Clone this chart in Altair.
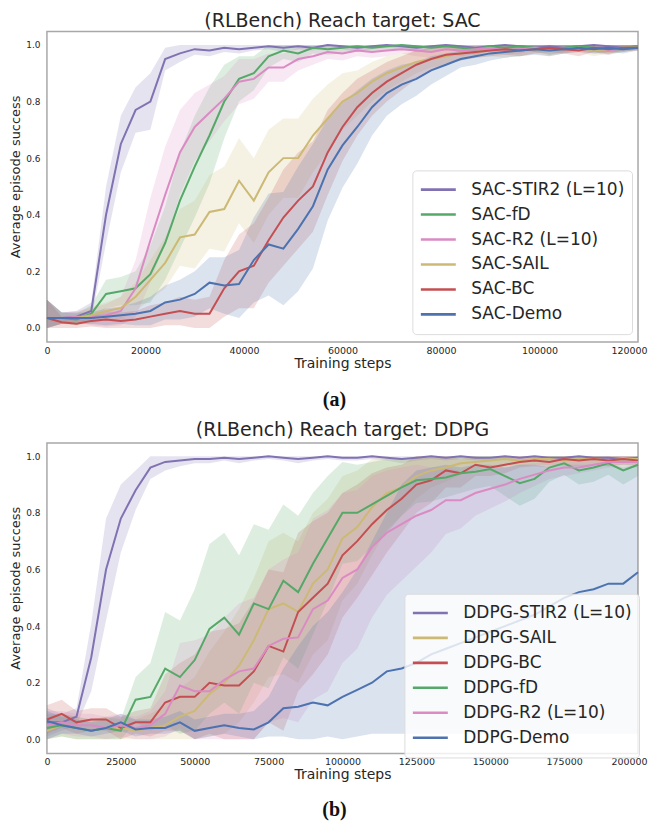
import altair as alt
import pandas as pd

# ---------------- data ----------------
SAC_STEPS = list(range(0, 120001, 3000))
DDPG_STEPS = list(range(0, 200001, 5000))
SAC_X_TICKS = [0, 20000, 40000, 60000, 80000, 100000, 120000]
DDPG_X_TICKS = [0, 25000, 50000, 75000, 100000, 125000, 150000, 175000, 200000]
Y_TICKS = [0.0, 0.2, 0.4, 0.6, 0.8, 1.0]

SAC_NAMES = ["SAC-STIR2 (L=10)", "SAC-fD", "SAC-R2 (L=10)", "SAC-SAIL", "SAC-BC", "SAC-Demo"]
SAC_COLORS = ["#8172B2", "#55A868", "#DA8BC3", "#CCB974", "#C44E52", "#4C72B0"]
DDPG_NAMES = ["DDPG-STIR2 (L=10)", "DDPG-SAIL", "DDPG-BC", "DDPG-fD", "DDPG-R2 (L=10)", "DDPG-Demo"]
DDPG_COLORS = ["#8172B2", "#CCB974", "#C44E52", "#55A868", "#DA8BC3", "#4C72B0"]

TITLE_A = "(RLBench) Reach target: SAC"
TITLE_B = "(RLBench) Reach target: DDPG"
CAPTION_A = "(a)"
CAPTION_B = "(b)"

sac_stir2_mean = [.035, .035, .04, .06, .40, .65, .77, .80, .95, .97,
                  .985, .98, .99, .985, .99, .995, .99, .995, .99, 1.0,
                  .995, .99, .995, 1.0, .995, .99, .995, 1.0, .995, .99,
                  .995, 1.0, .995, .99, .995, .99, .995, 1.0, .995, .99,
                  .995]
sac_stir2_sd = [.065, .02, .02, .03, .10, .10, .08, .10, .04, .03,
                .02, .02, .015, .015, .01, .01, .015, .01, .01, .01,
                .01, .015, .01, .01, .01, .015, .01, .01, .01, .015,
                .01, .01, .01, .015, .01, .01, .01, .01, .01, .015,
                .01]
sac_fd_mean = [.035, .035, .03, .05, .12, .13, .14, .19, .30, .45,
               .57, .68, .80, .88, .90, .96, .98, .97, .99, .985,
               .99, .995, .99, .995, 1.0, .995, .99, .995, .99, .985,
               .995, .99, .995, .99, .985, .99, .995, .99, .985, .99,
               .995]
sac_fd_sd = [.065, .02, .02, .03, .05, .05, .06, .10, .13, .17,
             .18, .17, .13, .08, .06, .04, .03, .03, .02, .02,
             .02, .015, .015, .015, .01, .015, .015, .01, .015, .02,
             .015, .015, .01, .015, .02, .015, .01, .015, .02, .015,
             .01]
sac_r2_mean = [.035, .035, .04, .04, .045, .06, .14, .31, .47, .62,
               .71, .76, .81, .87, .88, .92, .92, .95, .96, .975,
               .97, .98, .975, .98, .985, .98, .975, .985, .98, .985,
               .99, .98, .985, .99, .98, .985, .99, .985, .98, .99,
               .99]
sac_r2_sd = [.065, .02, .02, .03, .04, .05, .10, .15, .17, .15,
             .12, .10, .08, .08, .07, .05, .05, .04, .03, .025,
             .025, .02, .02, .02, .015, .02, .02, .015, .02, .015,
             .01, .015, .015, .01, .015, .015, .01, .015, .015, .01,
             .01]
sac_sail_mean = [.035, .035, .035, .045, .06, .07, .11, .17, .23, .32,
                 .33, .41, .42, .52, .45, .55, .60, .60, .68, .74,
                 .80, .83, .87, .90, .92, .94, .95, .96, .97, .975,
                 .98, .975, .98, .985, .98, .985, .99, .98, .985, .99,
                 .99]
sac_sail_sd = [.065, .02, .02, .03, .03, .04, .05, .07, .09, .10,
               .12, .13, .15, .15, .15, .15, .14, .14, .13, .12,
               .10, .08, .07, .06, .05, .04, .03, .03, .025, .02,
               .02, .02, .02, .015, .02, .015, .015, .02, .015, .015,
               .01]
sac_bc_mean = [.035, .02, .015, .025, .03, .025, .03, .04, .05, .06,
               .05, .05, .14, .20, .22, .31, .39, .45, .50, .62,
               .71, .78, .83, .87, .90, .93, .95, .965, .97, .975,
               .98, .985, .98, .985, .99, .985, .98, .99, .985, .99,
               .99]
sac_bc_sd = [.065, .02, .02, .02, .03, .03, .03, .04, .04, .05,
             .05, .06, .10, .13, .15, .15, .17, .17, .16, .15,
             .12, .10, .08, .07, .06, .05, .04, .03, .025, .02,
             .02, .02, .02, .015, .015, .015, .02, .015, .015, .01,
             .01]
sac_demo_mean = [.035, .035, .035, .035, .04, .045, .05, .06, .09, .10,
                 .12, .16, .15, .155, .24, .295, .28, .35, .43, .56,
                 .645, .71, .78, .83, .86, .88, .91, .93, .95, .96,
                 .97, .975, .98, .985, .98, .985, .99, .985, .99, .985,
                 .99]
sac_demo_sd = [.065, .02, .02, .02, .03, .03, .04, .05, .06, .07,
               .08, .09, .10, .12, .15, .18, .20, .22, .22, .18,
               .15, .13, .10, .08, .07, .06, .05, .04, .03, .03,
               .025, .02, .02, .02, .02, .015, .015, .015, .015, .015,
               .01]

ddpg_stir2_mean = [.06, .06, .08, .29, .60, .78, .88, .96, .98, .985,
                   .99, .99, .995, .99, .995, 1.0, .995, .99, .995, 1.0,
                   .995, .995, 1.0, .995, .99, .995, 1.0, .995, 1.0, .995,
                   .995, 1.0, .995, 1.0, .995, .995, 1.0, .995, .995, .99,
                   .995]
ddpg_stir2_sd = [.05, .03, .03, .12, .18, .12, .07, .04, .03, .02,
                 .015, .015, .01, .015, .01, .01, .01, .015, .01, .01,
                 .01, .01, .01, .01, .015, .01, .01, .01, .01, .01,
                 .01, .01, .01, .01, .01, .01, .01, .01, .01, .015,
                 .01]
ddpg_sail_mean = [.03, .05, .04, .03, .04, .04, .03, .04, .05, .08,
                  .10, .16, .20, .26, .35, .46, .48, .45, .55, .60,
                  .71, .75, .82, .87, .89, .93, .95, .96, .975, .98,
                  .985, .99, .985, .99, .99, .985, .99, .99, .985, .99,
                  .99]
ddpg_sail_sd = [.05, .04, .04, .04, .04, .04, .04, .05, .07, .10,
                .12, .15, .18, .20, .22, .24, .25, .25, .25, .25,
                .22, .20, .17, .13, .10, .08, .06, .05, .04, .03,
                .02, .02, .02, .02, .02, .02, .02, .02, .02, .02,
                .02]
ddpg_bc_mean = [.07, .09, .06, .07, .07, .04, .06, .06, .13, .15,
                .15, .20, .19, .19, .24, .33, .31, .45, .50, .55,
                .65, .70, .76, .81, .85, .90, .915, .95, .94, .97,
                .96, .97, .98, .985, .98, .99, .985, .99, .985, .99,
                .985]
ddpg_bc_sd = [.05, .05, .04, .04, .04, .04, .04, .05, .10, .12,
              .15, .18, .20, .22, .25, .27, .28, .28, .27, .25,
              .22, .20, .18, .15, .12, .10, .08, .06, .05, .04,
              .03, .03, .02, .02, .02, .02, .02, .02, .02, .02,
              .02]
ddpg_fd_mean = [.04, .05, .04, .03, .04, .03, .14, .15, .25, .22,
                .28, .39, .43, .37, .48, .46, .56, .52, .62, .71,
                .80, .80, .83, .86, .89, .915, .92, .925, .94, .945,
                .955, .93, .905, .92, .96, .975, .95, .96, .975, .95,
                .97]
ddpg_fd_sd = [.05, .04, .04, .04, .04, .04, .08, .12, .20, .20,
              .25, .30, .30, .28, .28, .28, .27, .27, .25, .22,
              .18, .17, .15, .13, .10, .08, .08, .07, .07, .06,
              .06, .07, .08, .07, .05, .04, .05, .05, .04, .05,
              .04]
ddpg_r2_mean = [.05, .06, .05, .05, .04, .05, .04, .05, .09, .19,
                .17, .17, .21, .24, .25, .33, .355, .36, .46, .49,
                .57, .60, .68, .73, .76, .79, .81, .845, .845, .87,
                .885, .90, .92, .935, .95, .96, .96, .97, .98, .98,
                .98]
ddpg_r2_sd = [.05, .04, .04, .04, .04, .04, .04, .05, .08, .15,
              .18, .20, .22, .24, .25, .27, .28, .30, .32, .32,
              .30, .28, .25, .22, .20, .18, .15, .12, .10, .08,
              .07, .06, .05, .04, .03, .03, .02, .02, .02, .02,
              .02]
ddpg_demo_mean = [.065, .05, .04, .03, .04, .06, .035, .04, .04, .06,
                  .03, .04, .05, .04, .035, .06, .11, .115, .13, .12,
                  .15, .175, .20, .24, .25, .27, .30, .32, .34, .36,
                  .38, .40, .42, .44, .47, .50, .52, .53, .55, .55,
                  .59]
ddpg_demo_lo = [0.0, .02, .02, .01, .02, .03, .01, .02, .02, .03,
                .0, .01, .02, .01, .0, .01, .01, .0, .0, .01,
                .0, .01, .02, .02, .02, .02, .02, .02, .02, .02,
                .02, .02, .02, .02, .02, .02, .02, .02, .02, .02,
                .02]
ddpg_demo_hi = [.10, .08, .07, .06, .07, .09, .07, .07, .08, .10,
                .07, .08, .09, .09, .10, .15, .25, .33, .40, .45,
                .52, .60, .70, .80, .90, .95, .96, .97, .96, .97,
                .97, .96, .97, .97, .96, .97, .97, .97, .97, .96,
                .97]

SAC_MEANS = dict(zip(SAC_NAMES, [sac_stir2_mean, sac_fd_mean, sac_r2_mean,
                                 sac_sail_mean, sac_bc_mean, sac_demo_mean]))
SAC_SDS = dict(zip(SAC_NAMES, [sac_stir2_sd, sac_fd_sd, sac_r2_sd,
                               sac_sail_sd, sac_bc_sd, sac_demo_sd]))
DDPG_MEANS = dict(zip(DDPG_NAMES, [ddpg_stir2_mean, ddpg_sail_mean, ddpg_bc_mean,
                                   ddpg_fd_mean, ddpg_r2_mean, ddpg_demo_mean]))
DDPG_SDS = dict(zip(DDPG_NAMES[:5], [ddpg_stir2_sd, ddpg_sail_sd, ddpg_bc_sd,
                                     ddpg_fd_sd, ddpg_r2_sd]))
DDPG_BANDS = {"DDPG-Demo": (ddpg_demo_lo, ddpg_demo_hi)}

FONT = "DejaVu Sans"
TXT = "#262626"
W, H = 592, 311


def build_df(steps, names, means, sds, bands):
    rows = []
    for name in names:
        m = means[name]
        if name in bands:
            lo, hi = bands[name]
        else:
            lo = [max(a - b, 0.0) for a, b in zip(m, sds[name])]
            hi = [min(a + b, 1.0) for a, b in zip(m, sds[name])]
        for s, a, l, h in zip(steps, m, lo, hi):
            rows.append({"step": s, "series": name, "mean": a, "lo": l, "hi": h})
    return pd.DataFrame(rows)


def panel(df, names, colors, xmax, xticks, lx, ly):
    xs = alt.Scale(domain=[0, xmax], nice=False, zero=False)
    ys = alt.Scale(domain=[-0.05, 1.047], nice=False, zero=False)
    xaxis = alt.Axis(values=xticks, format="d", title="Training steps", grid=False,
                     ticks=False, domain=False, labelFontSize=9.5, labelPadding=3,
                     labelColor=TXT, titleColor=TXT, titleFontSize=14,
                     titleFontWeight="normal", titlePadding=2, labelFlush=False,
                     labelOffset={"condition": {"test": f"datum.value >= {xmax}",
                                                "value": -9}, "value": 0})
    yaxis = alt.Axis(values=Y_TICKS, format=".1f", title="Average episode success",
                     grid=False, ticks=False, domain=False, labelFontSize=9,
                     labelPadding=7, labelColor=TXT, titleColor=TXT,
                     titleFontSize=13, titleFontWeight="normal", titlePadding=3.5,
                     titleY=145)
    legend = alt.Legend(title=None, orient="none", legendX=lx, legendY=ly,
                        symbolType="stroke", symbolSize=1225, symbolStrokeWidth=2.6,
                        labelFontSize=17, labelFont=FONT, labelColor=TXT,
                        labelLimit=400, labelOffset=14, rowPadding=0,
                        clipHeight=24.5, padding=7,
                        fillColor="rgba(255,255,255,0.8)",
                        strokeColor="#dcdcdc", cornerRadius=4)
    base = alt.Chart(df)
    bands, lines = [], []
    for name, col in zip(names, colors):
        f = base.transform_filter(alt.datum.series == name)
        bands.append(f.mark_area(color=col, opacity=0.2).encode(
            x=alt.X("step:Q", scale=xs, axis=xaxis),
            y=alt.Y("lo:Q", scale=ys, axis=yaxis),
            y2="hi:Q"))
        lines.append(f.mark_line(strokeWidth=2).encode(
            x=alt.X("step:Q", scale=xs, axis=xaxis),
            y=alt.Y("mean:Q", scale=ys, axis=yaxis),
            color=alt.Color("series:N", scale=alt.Scale(domain=names, range=colors),
                            legend=legend)))
    return alt.layer(*bands, *lines).properties(
        width=W, height=H,
        view=alt.ViewBackground(stroke="#a8a8a8", strokeWidth=1.5))


def text_item(txt, x, y, kind):
    if kind == "title":
        mk = dict(font=FONT, fontSize=19, fontWeight="normal", color=TXT)
    else:
        mk = dict(font="Liberation Serif", fontSize=20, fontWeight="bold", color="#111111")
    return alt.Chart(pd.DataFrame({"t": [txt]})).mark_text(
        baseline="middle", align="center", **mk
    ).encode(text="t:N", x=alt.value(x), y=alt.value(y))


top = text_item(TITLE_A, 296, 12, "title").properties(width=W, height=19)
mid = alt.layer(text_item(CAPTION_A, 288, 28, "caption"),
                text_item(TITLE_B, 296, 58, "title")).properties(width=W, height=69.5)
bot = text_item(CAPTION_B, 288, 27, "caption").properties(width=W, height=36)

sac_df = build_df(SAC_STEPS, SAC_NAMES, SAC_MEANS, SAC_SDS, {})
ddpg_df = build_df(DDPG_STEPS, DDPG_NAMES, DDPG_MEANS, DDPG_SDS, DDPG_BANDS)

pa = panel(sac_df, SAC_NAMES, SAC_COLORS, 120000, SAC_X_TICKS, 366, 139)
pb = panel(ddpg_df, DDPG_NAMES, DDPG_COLORS, 200000, DDPG_X_TICKS, 358, 151)

chart = alt.vconcat(top, pa, mid, pb, bot, spacing=0).resolve_scale(
    color="independent").resolve_legend(color="independent").properties(
    padding=0, background="white"
).configure(font=FONT).configure_view(stroke=None)

chart.save("out.html", embed_options={"renderer": "svg", "actions": False})
